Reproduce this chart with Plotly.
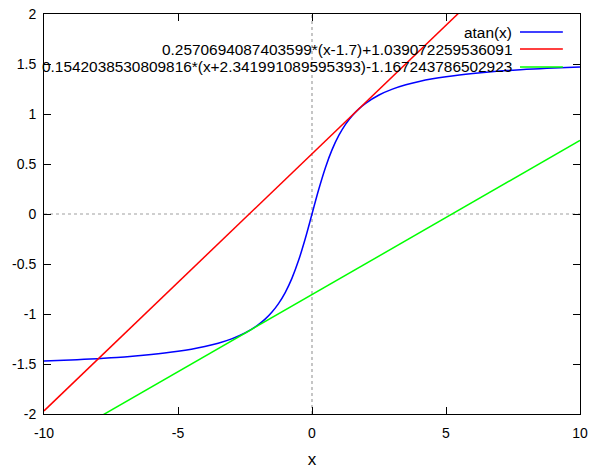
import plotly.graph_objects as go

atan_x = [-10, -9.5, -9, -8.5, -8, -7.5, -7, -6.5, -6, -5.5, -5, -4.5, -4, -3.5, -3, -2.5, -2, -1.75, -1.5, -1.25, -1, -0.75, -0.5, -0.25,
          0, 0.25, 0.5, 0.75, 1, 1.25, 1.5, 1.75, 2, 2.5, 3, 3.5, 4, 4.5, 5, 5.5, 6, 6.5, 7, 7.5, 8, 8.5, 9, 9.5, 10]
atan_y = [-1.4711, -1.4659, -1.4601, -1.4537, -1.4464, -1.4382, -1.4289, -1.4181, -1.4056, -1.3909, -1.3734, -1.3521, -1.3258, -1.2925, -1.2490, -1.1903, -1.1071, -1.0517, -0.9828, -0.8961, -0.7854, -0.6435, -0.4636, -0.2450,
          0.0, 0.2450, 0.4636, 0.6435, 0.7854, 0.8961, 0.9828, 1.0517, 1.1071, 1.1903, 1.2490, 1.2925, 1.3258, 1.3521, 1.3734, 1.3909, 1.4056, 1.4181, 1.4289, 1.4382, 1.4464, 1.4537, 1.4601, 1.4659, 1.4711]

# tangent line endpoints
red_x = [-10, 10]
red_y = [-1.969, 3.173]
green_x = [-10, 10]
green_y = [-2.348, 0.736]

labels = ["atan(x)",
          "0.2570694087403599*(x-1.7)+1.039072259536091",
          "0.1542038530809816*(x+2.341991089595393)-1.167243786502923"]
colors = ["#0000ff", "#ff0000", "#00ff00"]

x_ticks = [-10, -5, 0, 5, 10]
y_ticks = [-2, -1.5, -1, -0.5, 0, 0.5, 1, 1.5, 2]

FONT = "Liberation Sans, Arial, sans-serif"

fig = go.Figure()
fig.add_trace(go.Scatter(x=atan_x, y=atan_y, mode="lines", line=dict(color=colors[0], width=1.5, shape="spline"), name=labels[0]))
fig.add_trace(go.Scatter(x=red_x, y=red_y, mode="lines", line=dict(color=colors[1], width=1.5), name=labels[1]))
fig.add_trace(go.Scatter(x=green_x, y=green_y, mode="lines", line=dict(color=colors[2], width=1.5), name=labels[2]))

shapes = [
    dict(type="line", xref="x", yref="paper", x0=0, x1=0, y0=0, y1=1, line=dict(color="#a0a0a0", width=1.2, dash="dot"), layer="below"),
    dict(type="line", xref="paper", yref="y", x0=0, x1=1, y0=0, y1=0, line=dict(color="#a0a0a0", width=1.2, dash="dot"), layer="below"),
]
annotations = []
rows = [0.955, 0.9125, 0.8675]
for lab, col, yy in zip(labels, colors, rows):
    annotations.append(dict(text=lab, xref="paper", yref="paper", x=0.875, y=yy, xanchor="right", yanchor="middle",
                            showarrow=False, font=dict(family=FONT, size=15.4, color="black"), borderpad=0))
    shapes.append(dict(type="line", xref="paper", yref="paper", x0=0.888, x1=0.968, y0=yy, y1=yy, line=dict(color=col, width=1.5)))

fig.update_layout(
    width=591, height=469,
    margin=dict(l=44, r=11, t=14, b=55),
    paper_bgcolor="white", plot_bgcolor="white",
    showlegend=False,
    font=dict(family=FONT, size=14, color="black"),
    shapes=shapes, annotations=annotations,
    xaxis=dict(range=[-10, 10], tickvals=x_ticks, ticktext=[str(v) for v in x_ticks],
               ticks="inside", ticklen=7, tickcolor="black", showline=True, linecolor="black", linewidth=1,
               mirror="ticks", showgrid=False, zeroline=False, title=dict(text="x", standoff=18),
               ticklabelstandoff=6, automargin=False),
    yaxis=dict(range=[-2, 2], tickvals=y_ticks, ticktext=[("%g" % v) for v in y_ticks],
               ticks="inside", ticklen=7, tickcolor="black", showline=True, linecolor="black", linewidth=1,
               mirror="ticks", showgrid=False, zeroline=False, ticklabelstandoff=4, automargin=False),
)

fig.write_html("out.html")
